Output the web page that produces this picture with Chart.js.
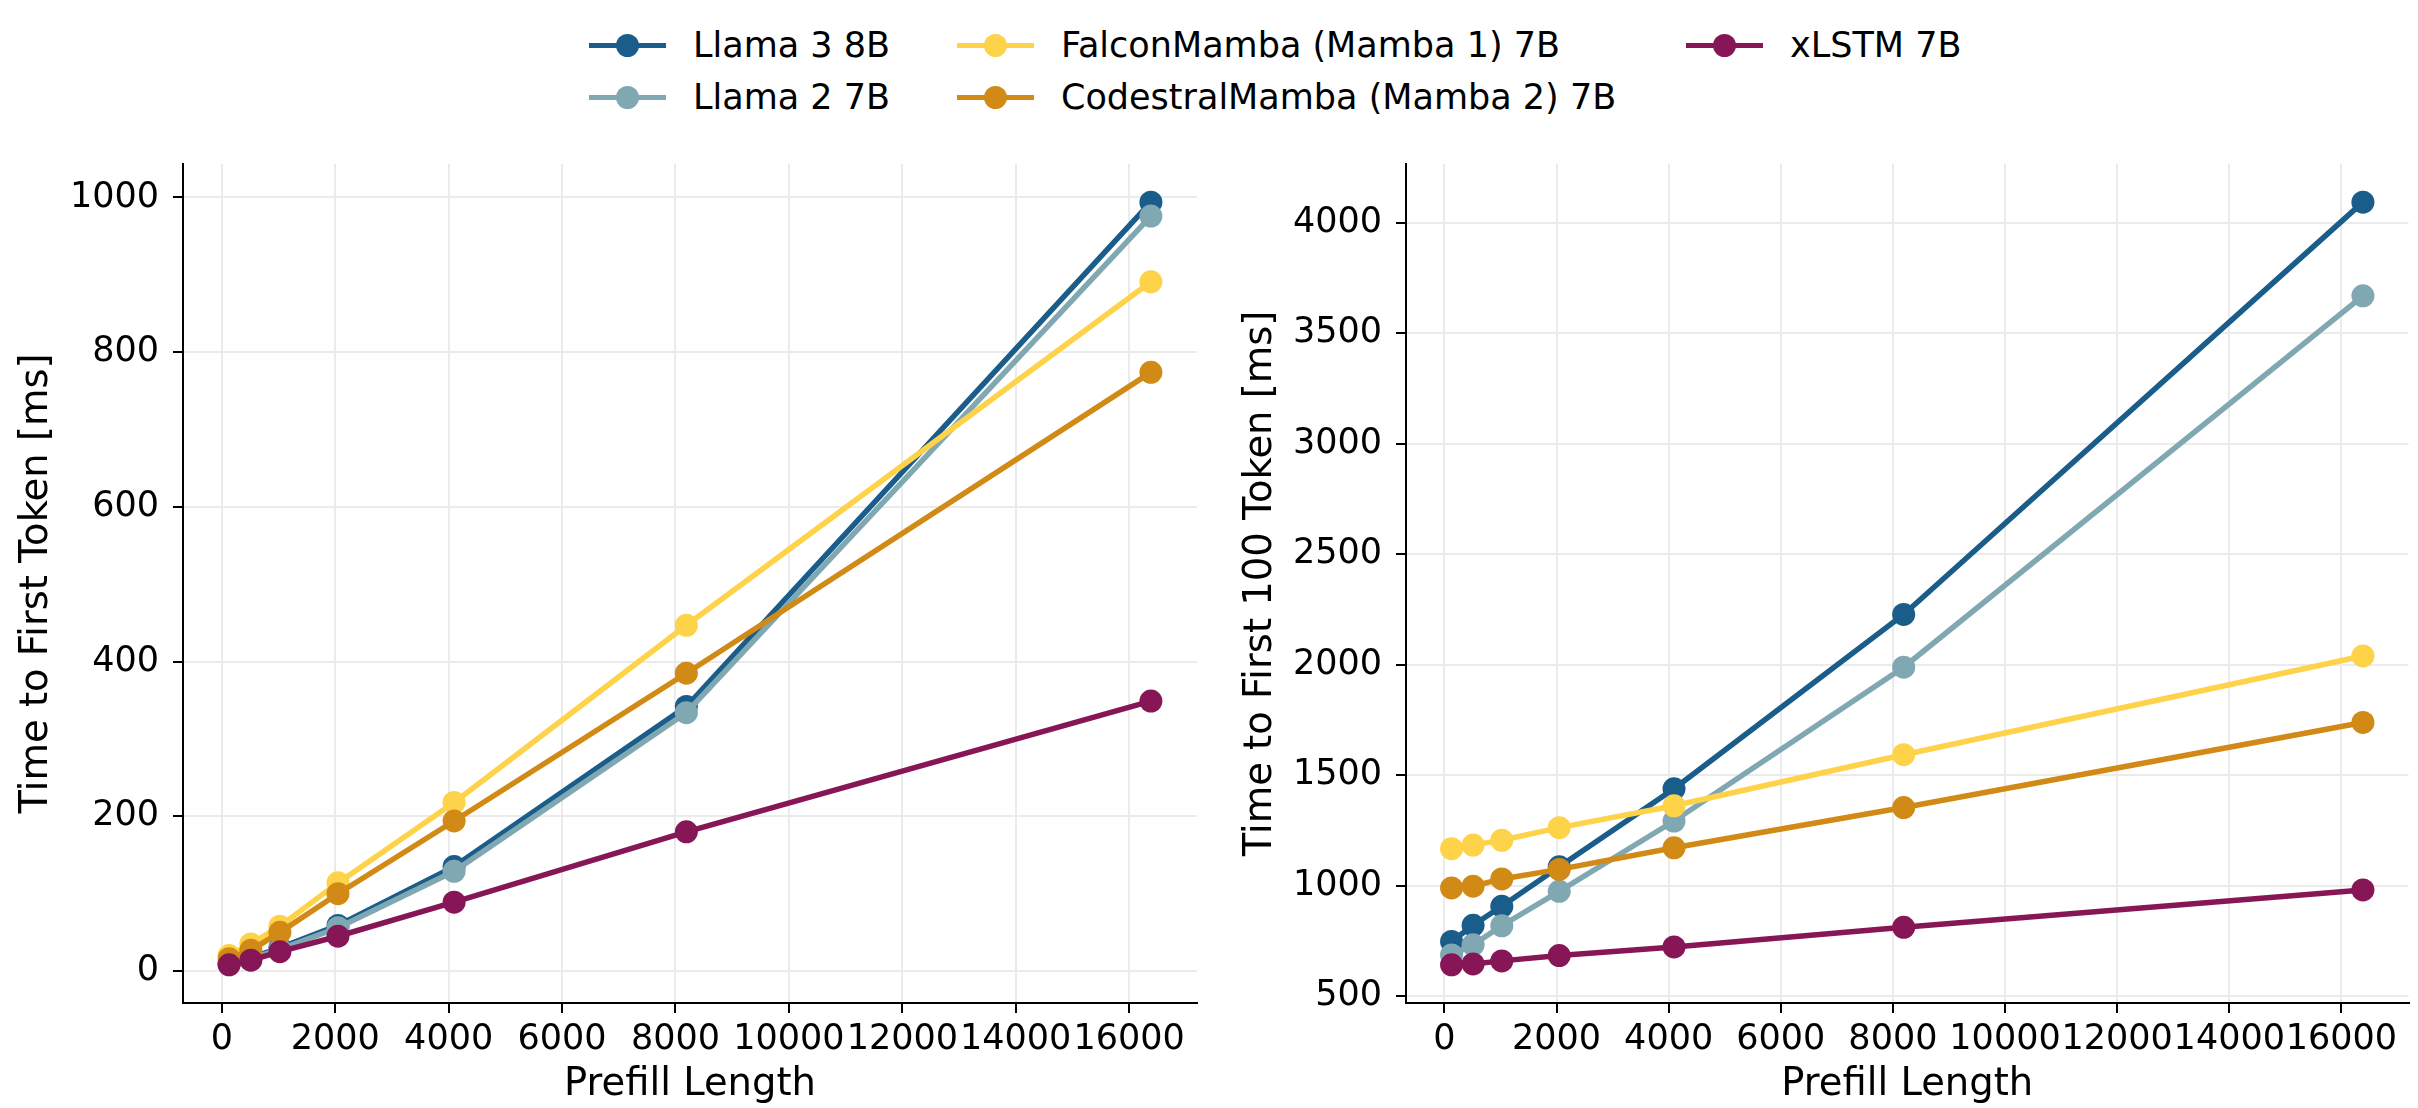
<!DOCTYPE html>
<html>
<head>
<meta charset="utf-8">
<script src="https://cdn.jsdelivr.net/npm/chart.js@4.4.1/dist/chart.umd.min.js"></script>
<style>
  html, body { margin: 0; padding: 0; background: #fff; }
  body { width: 2418px; height: 1108px; position: relative; overflow: hidden; font-family: "DejaVu Sans", sans-serif; }
  .panel { position: absolute; top: 0; height: 1108px; }
  .legend-item { position: absolute; height: 40px; display: flex; align-items: center; }
  .legend-mark { position: relative; width: 77px; height: 5px; margin-right: 27px; }
  .legend-mark .dot { position: absolute; left: 27px; top: -9px; width: 23px; height: 23px; border-radius: 50%; }
  .legend-text { font-size: 35px; color: #000; white-space: nowrap; line-height: 40px; }
</style>
</head>
<body>
<div id="legend"></div>
<div class="panel" style="left:0;width:1212px;"><canvas id="left"></canvas></div>
<div class="panel" style="left:1218px;width:1202px;"><canvas id="right"></canvas></div>
<script>
// ---------------- data ----------------
const prefillLengths = [128, 512, 1024, 2048, 4096, 8192, 16384];
const seriesNames = ["Llama 3 8B", "Llama 2 7B", "FalconMamba (Mamba 1) 7B", "CodestralMamba (Mamba 2) 7B", "xLSTM 7B"];
const seriesColors = ["#1a5d8a", "#80a8b2", "#fed249", "#d18a16", "#861656"];

// Time to First Token [ms]
const ttftLlama3 = [10, 17, 30, 59, 135, 342, 994];
const ttftLlama2 = [9, 16, 28, 56, 129, 334, 976];
const ttftFalcon = [20, 35, 58, 114, 218, 447, 891];
const ttftCodestral = [16, 27, 50, 100, 194, 385, 774];
const ttftXlstm = [8, 14, 25, 45, 89, 180, 349];

// Time to First 100 Token [ms]
const t100Llama3 = [747, 820, 906, 1085, 1438, 2227, 4093];
const t100Llama2 = [686, 732, 818, 974, 1292, 1988, 3669];
const t100Falcon = [1167, 1183, 1205, 1262, 1361, 1592, 2039];
const t100Codestral = [989, 997, 1030, 1073, 1171, 1353, 1738];
const t100Xlstm = [641, 645, 659, 683, 722, 811, 980];

// tick labels
const xTicks = [0, 2000, 4000, 6000, 8000, 10000, 12000, 14000, 16000];
const leftYTicks = [0, 200, 400, 600, 800, 1000];
const rightYTicks = [500, 1000, 1500, 2000, 2500, 3000, 3500, 4000];

const xTitle = "Prefill Length";
const leftYTitle = "Time to First Token [ms]";
const rightYTitle = "Time to First 100 Token [ms]";

// ---------------- legend (matplotlib-like, 3 columns, column-wise) ----------------
const legendCols = [589, 957, 1686];
const legendRows = [25, 77];
const legendEl = document.getElementById('legend');
seriesNames.forEach((name, i) => {
  const col = Math.floor(i / 2), row = i % 2;
  const item = document.createElement('div');
  item.className = 'legend-item';
  item.style.left = legendCols[col] + 'px';
  item.style.top = legendRows[row] + 'px';
  const mark = document.createElement('div');
  mark.className = 'legend-mark';
  mark.style.background = seriesColors[i];
  const dot = document.createElement('div');
  dot.className = 'dot';
  dot.style.background = seriesColors[i];
  mark.appendChild(dot);
  const txt = document.createElement('span');
  txt.className = 'legend-text';
  txt.textContent = name;
  item.appendChild(mark);
  item.appendChild(txt);
  legendEl.appendChild(item);
});

// ---------------- charts ----------------
const FONT = "'DejaVu Sans', sans-serif";
function padRange(arrs) {
  const all = [].concat(...arrs);
  const mn = Math.min(...all), mx = Math.max(...all);
  const m = 0.05 * (mx - mn);
  return [mn - m, mx + m];
}

function makeChart(id, ySeries, yTicks, yTitleText, opts) {
  const [xMin, xMax] = padRange([prefillLengths]);
  const [yMin, yMax] = padRange(ySeries);
  const datasets = ySeries.map((vals, i) => ({
    label: seriesNames[i],
    data: prefillLengths.map((x, k) => ({ x: x, y: vals[k] })),
    borderColor: seriesColors[i],
    backgroundColor: seriesColors[i],
    pointBackgroundColor: seriesColors[i],
    pointBorderColor: seriesColors[i],
    pointBorderWidth: 0,
    pointRadius: 11.5,
    pointHoverRadius: 11.5,
    borderWidth: 5.5,
    tension: 0,
    order: ySeries.length - i
  }));
  const gridOpts = { color: '#ebebeb', lineWidth: 2, drawTicks: true, tickLength: 10, tickColor: '#000', tickWidth: 2 };
  return new Chart(document.getElementById(id), {
    type: 'line',
    data: { datasets },
    options: {
      responsive: true,
      maintainAspectRatio: false,
      animation: false,
      devicePixelRatio: 1,
      layout: { padding: { top: 164, right: opts.padRight, left: 0, bottom: 0 } },
      plugins: { legend: { display: false }, tooltip: { enabled: false } },
      scales: {
        x: {
          type: 'linear',
          min: xMin, max: xMax,
          afterBuildTicks: s => { s.ticks = xTicks.map(v => ({ value: v })); },
          ticks: {
            autoSkip: false, maxRotation: 0, minRotation: 0,
            color: '#000', font: { family: FONT, size: 35 }, padding: 6,
            callback: v => String(v)
          },
          grid: gridOpts,
          border: { display: true, color: '#000', width: 2 },
          title: { display: true, text: xTitle, color: '#000', font: { family: FONT, size: 38.5 }, padding: { top: 0, bottom: 0 } },
          afterFit: s => { s.height = 105; s.paddingLeft = 0; s.paddingRight = 0; }
        },
        y: {
          type: 'linear',
          min: yMin, max: yMax,
          afterBuildTicks: s => { s.ticks = yTicks.map(v => ({ value: v })); },
          ticks: {
            autoSkip: false,
            color: '#000', font: { family: FONT, size: 35 }, padding: 14,
            callback: v => String(v)
          },
          grid: gridOpts,
          border: { display: true, color: '#000', width: 2 },
          title: { display: true, text: yTitleText, color: '#000', font: { family: FONT, size: 38.5 }, padding: { top: opts.yTitlePad, bottom: 0 } },
          afterFit: s => { s.width = opts.yAxisWidth; s.paddingTop = 0; s.paddingBottom = 0; }
        }
      }
    }
  });
}

makeChart('left', [ttftLlama3, ttftLlama2, ttftFalcon, ttftCodestral, ttftXlstm], leftYTicks, leftYTitle,
  { padRight: 15, yAxisWidth: 183, yTitlePad: 14 });
makeChart('right', [t100Llama3, t100Llama2, t100Falcon, t100Codestral, t100Xlstm], rightYTicks, rightYTitle,
  { padRight: 0, yAxisWidth: 188, yTitlePad: 20 });
</script>
</body>
</html>
